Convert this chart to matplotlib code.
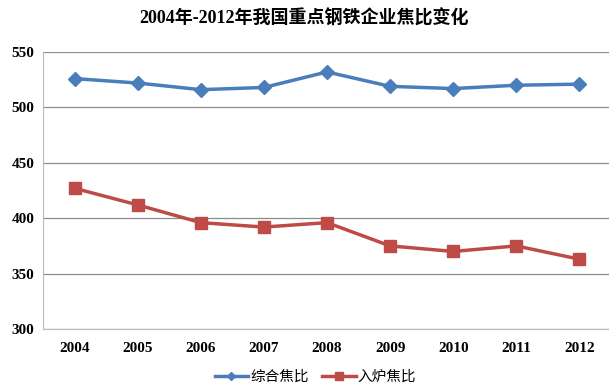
import matplotlib
matplotlib.use('Agg')
import matplotlib.pyplot as plt

years = ['2004', '2005', '2006', '2007', '2008', '2009', '2010', '2011', '2012']
zonghe = [526, 522, 516, 518, 532, 519, 517, 520, 521]
rulu = [427, 412, 396, 392, 396, 375, 370, 375, 363]

plt.rcParams['font.family'] = ['Liberation Serif', 'Noto Sans CJK SC']

fig = plt.figure(figsize=(6.09, 3.88), dpi=100)
ax = fig.add_axes([43 / 609, 59 / 388, 568 / 609, 277 / 388])

x = range(len(years))
ax.plot(x, zonghe, color='#4A7EBB', lw=2.5, marker='D', ms=7, label='综合焦比')
ax.plot(x, rulu, color='#BE4B48', lw=2.5, marker='s', ms=8, label='入炉焦比')

ax.set_xlim(-0.5, len(years) - 0.5)
ax.set_ylim(300, 550)
ax.set_yticks(range(300, 551, 50))
ax.set_xticks(list(x))
ax.set_xticklabels(years)
ax.grid(axis='y', color='#8C8C8C', lw=0.9)
ax.set_axisbelow(True)
for s in ['top', 'right']:
    ax.spines[s].set_visible(False)
for s in ['left', 'bottom']:
    ax.spines[s].set_color('#BBBBBB')
ax.tick_params(length=0, labelsize=11)
ax.tick_params(axis='x', pad=9)
ax.tick_params(axis='y', pad=6)
for lab in ax.get_xticklabels() + ax.get_yticklabels():
    lab.set_fontweight('bold')

fig.text(0.5, 0.953, '2004年-2012年我国重点钢铁企业焦比变化', ha='center', va='center',
         fontsize=13, fontweight='bold')

fig.legend(loc='center', bbox_to_anchor=(0.518, 0.028), ncol=2, frameon=False,
           handlelength=2.3, handletextpad=0.15, columnspacing=0.9, markerscale=0.65,
           prop={'family': ['Noto Sans CJK SC'], 'size': 10.5})

fig.savefig('out.png', dpi=100)
